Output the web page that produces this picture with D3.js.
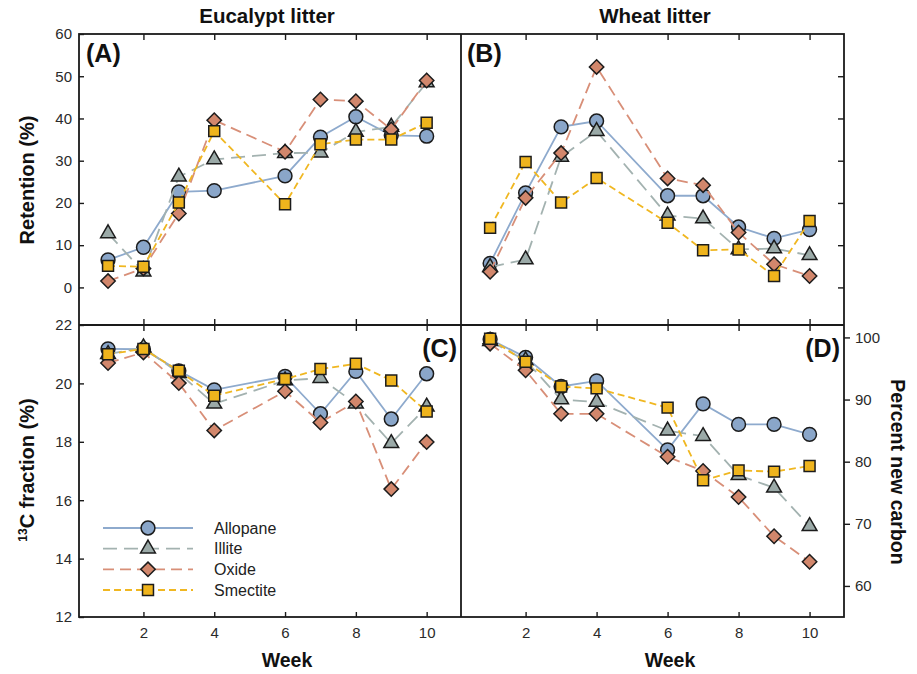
<!DOCTYPE html>
<html>
<head>
<meta charset="utf-8">
<script src="https://cdn.jsdelivr.net/npm/d3@7"></script>
<style>
  body { margin: 0; background: #fff; }
  svg { font-family: "Liberation Sans", Arial, sans-serif; }
  .tick text { font-size: 15px; fill: #2a2a2a; }
  .tick line { stroke: #1a1a1a; stroke-width: 1.4; }
</style>
</head>
<body>
<svg id="chart" width="917" height="674"></svg>
<script>
// ---------- data ----------
const weeks = [1, 2, 3, 4, 6, 7, 8, 9, 10];
const soils = ["Allopane", "Illite", "Oxide", "Smectite"];

// (A) eucalypt retention (%)
const eucRetAllopane = [6.5, 9.5, 22.6, 22.9, 26.4, 35.6, 40.4, 36.0, 35.8];
const eucRetIllite   = [12.8, 3.7, 26.2, 30.3, 31.8, 31.9, 36.8, 38.0, 48.5];
const eucRetOxide    = [1.5, 4.5, 17.5, 39.6, 32.1, 44.5, 44.1, 37.4, 49.0];
const eucRetSmectite = [5.1, 4.9, 20.1, 37.0, 19.7, 33.9, 35.0, 35.0, 39.0];

// (B) wheat retention (%)
const whtRetAllopane = [5.7, 22.4, 38.0, 39.4, 21.7, 21.7, 14.3, 11.6, 13.7];
const whtRetIllite   = [4.8, 6.6, 30.9, 37.0, 17.0, 16.3, 9.0, 9.2, 7.6];
const whtRetOxide    = [3.7, 21.2, 31.8, 52.2, 25.8, 24.2, 13.0, 5.5, 2.7];
const whtRetSmectite = [14.1, 29.7, 20.1, 25.9, 15.3, 8.8, 9.0, 2.7, 15.7];

// (C) eucalypt 13C fraction (%)
const eucFracAllopane = [21.18, 21.17, 20.43, 19.78, 20.24, 18.96, 20.41, 18.78, 20.33];
const eucFracIllite   = [21.0, 21.23, 20.35, 19.3, 20.1, 20.18, 19.3, 17.95, 19.2];
const eucFracOxide    = [20.7, 21.06, 20.01, 18.39, 19.73, 18.66, 19.38, 16.38, 17.99];
const eucFracSmectite = [21.0, 21.18, 20.43, 19.58, 20.15, 20.49, 20.67, 20.1, 19.04];

// (D) wheat percent new carbon
const whtNewAllopane = [99.7, 96.8, 92.1, 93.0, 81.9, 89.3, 86.0, 86.0, 84.4];
const whtNewIllite   = [99.4, 96.3, 90.0, 89.6, 85.0, 84.1, 77.8, 75.8, 69.6];
const whtNewOxide    = [99.0, 94.7, 87.7, 87.7, 80.8, 78.5, 74.3, 68.0, 63.9];
const whtNewSmectite = [99.8, 96.1, 92.1, 91.8, 88.7, 77.0, 78.6, 78.4, 79.3];

const xTicks = [2, 4, 6, 8, 10];
const retTicks = [0, 10, 20, 30, 40, 50, 60];
const fracTicks = [12, 14, 16, 18, 20, 22];
const newTicks = [60, 70, 80, 90, 100];

// ---------- styles ----------
const lineColor = { Allopane: "#8eaacd", Illite: "#a3b2b0", Oxide: "#d88f78", Smectite: "#f0b721" };
const fillColor = { Allopane: "#8aa6c9", Illite: "#9baaa8", Oxide: "#d2876c", Smectite: "#efb41d" };
const dash = { Allopane: null, Illite: "14,7", Oxide: "11,6", Smectite: "7,4" };
const shape = {
  Allopane: d3.symbol().type(d3.symbolCircle).size(150),
  Illite: d3.symbol().type(d3.symbolTriangle).size(95),
  Oxide: d3.symbol().type(d3.symbolDiamond).size(110),
  Smectite: d3.symbol().type(d3.symbolSquare).size(120)
};
// diamond in figure is a square turned 45deg, wider than d3's default
const diamondPath = (s) => `M0,${-s}L${s},0L0,${s}L${-s},0Z`;

const svg = d3.select("#chart");

const L = 79, M = 461, R = 844;
const T = 34, H = 325, B = 617;

const xLeft = d3.scaleLinear().domain([0.18, 10.97]).range([L, M]);
const xRight = d3.scaleLinear().domain([0.18, 10.97]).range([M, R]);
const yRet = d3.scaleLinear().domain([-8.9, 60]).range([H, T]);
const yFrac = d3.scaleLinear().domain([12, 22]).range([B, H]);
const yNew = d3.scaleLinear().domain([55, 102]).range([B, H]);

// =========================
// PANEL
// =========================
function drawSeries(g, x, y, seriesList) {
  seriesList.forEach(s => {
    const pts = weeks.map((w, i) => [w, s.values[i]]);
    g.append("path")
      .datum(pts)
      .attr("fill", "none")
      .attr("stroke", lineColor[s.name])
      .attr("stroke-width", 1.8)
      .attr("stroke-dasharray", dash[s.name])
      .attr("d", d3.line().x(d => x(d[0])).y(d => y(d[1])));

    g.selectAll(null)
      .data(pts)
      .enter()
      .append("path")
      .attr("transform", d => `translate(${x(d[0])},${y(d[1])})`)
      .attr("d", s.name === "Oxide" ? diamondPath(7.2) : shape[s.name]())
      .attr("fill", fillColor[s.name])
      .attr("stroke", "#1c1c1c")
      .attr("stroke-width", 1.5);
  });
}

function makeSeries(a, b, c, d) {
  return [
    { name: "Allopane", values: a },
    { name: "Illite", values: b },
    { name: "Oxide", values: c },
    { name: "Smectite", values: d }
  ];
}

function tickOnly(axis) {
  return axis.tickFormat("").tickSizeOuter(0);
}

function cleanAxis(g) {
  g.select(".domain").remove();
}

// ---------- axes / ticks ----------
// top panels: ticks at top (inward)
svg.append("g").attr("transform", `translate(0,${T})`)
  .call(tickOnly(d3.axisTop(xLeft).tickValues(xTicks).tickSize(-6))).call(cleanAxis);
svg.append("g").attr("transform", `translate(0,${T})`)
  .call(tickOnly(d3.axisTop(xRight).tickValues(xTicks).tickSize(-6))).call(cleanAxis);
// middle divider: ticks both sides
[xLeft, xRight].forEach(x => {
  svg.append("g").attr("transform", `translate(0,${H})`)
    .call(tickOnly(d3.axisTop(x).tickValues(xTicks).tickSize(6))).call(cleanAxis);
  svg.append("g").attr("transform", `translate(0,${H})`)
    .call(tickOnly(d3.axisBottom(x).tickValues(xTicks).tickSize(6))).call(cleanAxis);
});
// bottom axes with labels
[xLeft, xRight].forEach(x => {
  svg.append("g").attr("transform", `translate(0,${B})`)
    .call(d3.axisBottom(x).tickValues(xTicks).tickSizeInner(-5).tickSizeOuter(0).tickPadding(10))
    .call(cleanAxis);
});

// left axes
svg.append("g").attr("transform", `translate(${L},0)`)
  .call(d3.axisLeft(yRet).tickValues(retTicks).tickSizeInner(-5).tickSizeOuter(0).tickPadding(7))
  .call(cleanAxis);
svg.append("g").attr("transform", `translate(${L},0)`)
  .call(d3.axisLeft(yFrac).tickValues(fracTicks).tickSizeInner(-5).tickSizeOuter(0).tickPadding(7))
  .call(cleanAxis);

// right axes
svg.append("g").attr("transform", `translate(${R},0)`)
  .call(tickOnly(d3.axisRight(yRet).tickValues(retTicks.slice(0, 6)).tickSize(-6)))
  .call(cleanAxis);
svg.append("g").attr("transform", `translate(${R},0)`)
  .call(d3.axisRight(yNew).tickValues(newTicks).tickSizeInner(6).tickSizeOuter(0).tickPadding(5))
  .call(cleanAxis);

// ---------- series ----------
const plots = svg.append("g");
drawSeries(plots, xLeft, yRet, makeSeries(eucRetAllopane, eucRetIllite, eucRetOxide, eucRetSmectite));
drawSeries(plots, xRight, yRet, makeSeries(whtRetAllopane, whtRetIllite, whtRetOxide, whtRetSmectite));
drawSeries(plots, xLeft, yFrac, makeSeries(eucFracAllopane, eucFracIllite, eucFracOxide, eucFracSmectite));
drawSeries(plots, xRight, yNew, makeSeries(whtNewAllopane, whtNewIllite, whtNewOxide, whtNewSmectite));

// ---------- frame ----------
const frame = svg.append("g")
  .attr("fill", "none")
  .attr("stroke", "#1a1a1a")
  .attr("stroke-width", 1.8);
frame.append("rect").attr("x", L).attr("y", T).attr("width", R - L).attr("height", B - T);
frame.append("line").attr("x1", M).attr("x2", M).attr("y1", T).attr("y2", B);
frame.append("line").attr("x1", L).attr("x2", R).attr("y1", H).attr("y2", H);

// ---------- texts ----------
function label(txt, x, y, size, anchor = "middle", rotate = 0) {
  return svg.append("text")
    .attr("transform", `translate(${x},${y}) rotate(${rotate})`)
    .attr("text-anchor", anchor)
    .style("font-size", size + "px")
    .style("font-weight", "bold")
    .style("fill", "#111")
    .text(txt);
}

label("Eucalypt litter", 267, 23, 20.5);
label("Wheat litter", 655, 23, 20.5);
label("Retention (%)", 34, 180, 20, "middle", -90);
label("Percent new carbon", 891, 472, 19.5, "middle", 90);
label("Week", 287, 667, 19.5);
label("Week", 670, 667, 19.5);

const fracLabel = svg.append("text")
  .attr("transform", "translate(34,470) rotate(-90)")
  .attr("text-anchor", "middle")
  .style("font-size", "20px")
  .style("font-weight", "bold")
  .style("fill", "#111");
fracLabel.append("tspan").attr("baseline-shift", "super").style("font-size", "12px").text("13");
fracLabel.append("tspan").text("C fraction (%)");

label("(A)", 86, 62, 25, "start");
label("(B)", 467, 62, 25, "start");
label("(C)", 457, 357, 25, "end");
label("(D)", 840, 357, 25, "end");

// ---------- legend ----------
const legendY = d3.scalePoint().domain(soils).range([528, 590]);
const legend = svg.append("g");
soils.forEach(s => {
  const yy = legendY(s);
  legend.append("line")
    .attr("x1", 103).attr("x2", 193).attr("y1", yy).attr("y2", yy)
    .attr("stroke", lineColor[s])
    .attr("stroke-width", 1.8)
    .attr("stroke-dasharray", dash[s]);
  legend.append("path")
    .attr("transform", `translate(148,${yy})`)
    .attr("d", s === "Oxide" ? diamondPath(7.2) : shape[s]())
    .attr("fill", fillColor[s])
    .attr("stroke", "#1c1c1c")
    .attr("stroke-width", 1.5);
  legend.append("text")
    .attr("x", 214)
    .attr("y", yy + 5.5)
    .style("font-size", "16px")
    .style("fill", "#222")
    .text(s);
});
</script>
</body>
</html>
